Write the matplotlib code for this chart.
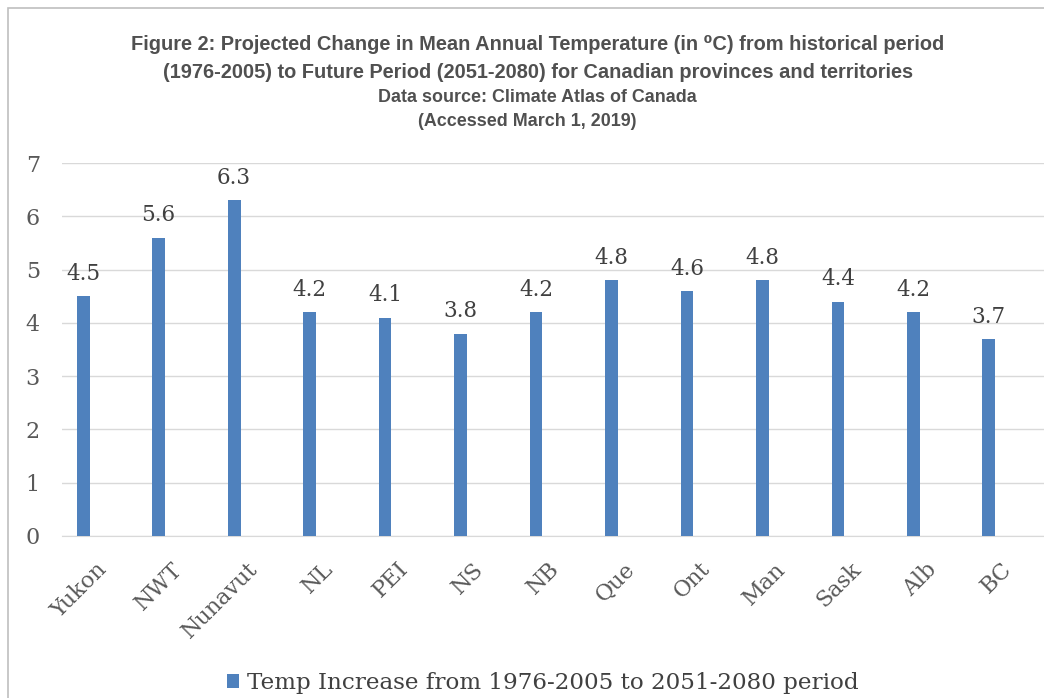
import matplotlib.pyplot as plt
import matplotlib.transforms as mtransforms
from matplotlib.patches import Rectangle

regions = ["Yukon", "NWT", "Nunavut", "NL", "PEI", "NS", "NB", "Que", "Ont", "Man", "Sask", "Alb", "BC"]
temp_increase = [4.5, 5.6, 6.3, 4.2, 4.1, 3.8, 4.2, 4.8, 4.6, 4.8, 4.4, 4.2, 3.7]
series_name = "Temp Increase from 1976-2005 to 2051-2080 period"
title_lines = [
    "Figure 2: Projected Change in Mean Annual Temperature (in \u2070C) from historical period",
    "(1976-2005) to Future Period (2051-2080) for Canadian provinces and territories",
]
source_lines = ["Data source: Climate Atlas of Canada", "(Accessed March 1, 2019)"]

bar_color = "#4F81BD"
serif = ["DejaVu Serif"]
title_font = ["Liberation Sans", "DejaVu Sans"]
title_color = "#505050"

fig = plt.figure(figsize=(10.44, 6.98), dpi=100)

# outer chart frame (runs off the right and bottom of the picture)
fig.patches.append(Rectangle((8 / 1044, -0.05), 1.2, 1 - 8 / 698 + 0.05,
                             transform=fig.transFigure, fill=False,
                             edgecolor="#BFBFBF", linewidth=1.2))

ax = fig.add_axes([62 / 1044, 1 - 536 / 698, 1 - 62 / 1044, (536 - 163) / 698])
x = list(range(len(regions)))
bars = ax.bar(x, temp_increase, width=0.17, color=bar_color, label=series_name, zorder=3)

ax.set_ylim(0, 7)
ax.set_xlim(-0.28, 12.73)
ax.set_yticks(range(8))
ax.yaxis.grid(True, color="#D9D9D9", linewidth=1)
ax.set_axisbelow(True)
for s in ["top", "right", "left"]:
    ax.spines[s].set_visible(False)
ax.spines["bottom"].set_color("#D9D9D9")
ax.tick_params(axis="both", length=0)
ax.tick_params(axis="y", pad=16)

ax.set_xticks(x)
ax.set_xticklabels(regions, rotation=45, ha="right", va="center", rotation_mode="anchor",
                   fontsize=16, family=serif, color="#595959")
shift = mtransforms.ScaledTranslation(20 / 100, -25 / 100, fig.dpi_scale_trans)
for lab in ax.get_xticklabels():
    lab.set_transform(lab.get_transform() + shift)
for lab in ax.get_yticklabels():
    lab.set_fontsize(16)
    lab.set_family(serif)
    lab.set_color("#595959")

for xi, v in zip(x, temp_increase):
    ax.annotate(f"{v:.1f}", (xi, v), xytext=(0, 8), textcoords="offset points",
                ha="center", va="bottom", fontsize=15.5, family=serif, color="#404040")

fig.text(0.515, 1 - 45 / 698, title_lines[0], ha="center", va="center",
         fontsize=14.4, fontweight="bold", family=title_font, color=title_color)
fig.text(0.515, 1 - 72 / 698, title_lines[1], ha="center", va="center",
         fontsize=14.4, fontweight="bold", family=title_font, color=title_color)
fig.text(0.515, 1 - 98 / 698, source_lines[0], ha="center", va="center",
         fontsize=12.9, fontweight="bold", family=title_font, color=title_color)
fig.text(0.505, 1 - 122 / 698, source_lines[1], ha="center", va="center",
         fontsize=12.9, fontweight="bold", family=title_font, color=title_color)

fig.legend(handles=[bars], labels=[series_name], loc="center",
           bbox_to_anchor=(0.52, 1 - 683 / 698), frameon=False,
           prop={"family": serif, "size": 16.6}, handlelength=0.55, handleheight=0.55,
           handletextpad=0.35, labelcolor="#404040")

fig.savefig("out.png", dpi=100)
